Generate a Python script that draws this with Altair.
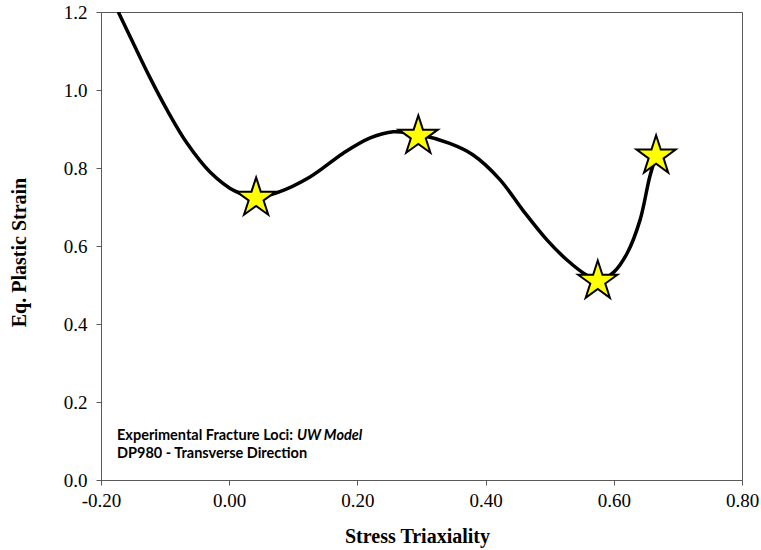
import math
import altair as alt
import pandas as pd

# Curve
curve_x = [-0.173, -0.150, -0.124, -0.097, -0.066, -0.030, 0.010, 0.042, 0.075, 0.126,
           0.178, 0.220, 0.256, 0.295, 0.344, 0.380, 0.422, 0.458, 0.496, 0.527,
           0.556, 0.578, 0.600, 0.621, 0.641, 0.656, 0.666]
curve_y = [1.200, 1.121, 1.033, 0.949, 0.864, 0.790, 0.740, 0.726, 0.737, 0.777,
           0.838, 0.877, 0.893, 0.886, 0.863, 0.834, 0.771, 0.692, 0.615, 0.564,
           0.527, 0.512, 0.533, 0.582, 0.667, 0.777, 0.831]

# Experimental points
pts_x = [0.042, 0.295, 0.575, 0.666]
pts_y = [0.723, 0.882, 0.510, 0.831]

x_ticks = [-0.2, 0.0, 0.2, 0.4, 0.6, 0.8]
y_ticks = [0.0, 0.2, 0.4, 0.6, 0.8, 1.0, 1.2]

curve = pd.DataFrame({"x": curve_x, "y": curve_y})
pts = pd.DataFrame({"x": pts_x, "y": pts_y})

# five-pointed star path in unit box
star_pts = []
for k in range(10):
    r = 1.0 if k % 2 == 0 else 0.382
    a = math.radians(-90 + 36 * k)
    star_pts.append(f"{r*math.cos(a):.4f},{r*math.sin(a):.4f}")
star_path = "M" + " L".join(star_pts) + " Z"

AX = "#595959"
SERIF = "Liberation Serif"
xs = alt.Scale(domain=[-0.2, 0.8], nice=False, zero=False)
ys = alt.Scale(domain=[0, 1.2], nice=False, zero=False)

x_axis = alt.Axis(values=x_ticks, title="Stress Triaxiality", grid=False,
                  labelExpr="replace(format(datum.value, '.2f'), '\u2212', '-')",
                  labelFont=SERIF, labelFontSize=19, labelColor="black",
                  labelFlush=False, labelOverlap=False, labelPadding=6,
                  tickSize=5, tickColor=AX, domainColor=AX,
                  titleFont=SERIF, titleFontSize=20, titleFontWeight="bold",
                  titleColor="black", titleBaseline="alphabetic", titleY=62, titleX=316)
y_axis = alt.Axis(values=y_ticks, format=".1f", title="Eq. Plastic Strain", grid=False,
                  labelFont=SERIF, labelFontSize=19, labelColor="black",
                  labelFlush=False, labelOverlap=False, labelPadding=9,
                  tickSize=5, tickColor=AX, domainColor=AX,
                  titleFont=SERIF, titleFontSize=20, titleFontWeight="bold",
                  titleColor="black", titleBaseline="middle", titleX=-82, titleY=240,
                  titleAngle=270)

line = alt.Chart(curve).mark_line(color="black", strokeWidth=3.5, interpolate="catmull-rom",
                                  clip=True).encode(
    x=alt.X("x:Q", scale=xs, axis=x_axis),
    y=alt.Y("y:Q", scale=ys, axis=y_axis),
)

stars = alt.Chart(pts).mark_point(shape=star_path, size=1700, filled=True, fill="#FFFF00",
                                  stroke="black", strokeWidth=2, opacity=1).encode(
    x=alt.X("x:Q", scale=xs, axis=x_axis),
    y=alt.Y("y:Q", scale=ys, axis=y_axis),
)

font = "Lato"
fs = 14.5
t1 = alt.Chart(pd.DataFrame({"t": ["Experimental Fracture Loci: "]})).mark_text(
    align="left", baseline="alphabetic", font=font, fontSize=fs, fontWeight="bold",
    color="black").encode(x=alt.value(16), y=alt.value(428), text="t:N")
t2 = alt.Chart(pd.DataFrame({"t": ["UW Model"]})).mark_text(
    align="left", baseline="alphabetic", font=font, fontSize=fs, fontWeight="bold",
    fontStyle="italic", color="black").encode(x=alt.value(196), y=alt.value(428), text="t:N")
t3 = alt.Chart(pd.DataFrame({"t": ["DP980 - Transverse Direction"]})).mark_text(
    align="left", baseline="alphabetic", font=font, fontSize=fs, fontWeight="bold",
    color="black").encode(x=alt.value(16), y=alt.value(446), text="t:N")

chart = alt.layer(line, stars, t1, t2, t3).properties(
    width=641, height=468,
    autosize=alt.AutoSizeParams(type="none"),
    padding={"left": 101, "top": 12, "right": 19, "bottom": 70},
    background="white",
).configure_view(stroke=AX, strokeWidth=1)

chart.save("out.html", embed_options={"renderer": "svg", "actions": False})
